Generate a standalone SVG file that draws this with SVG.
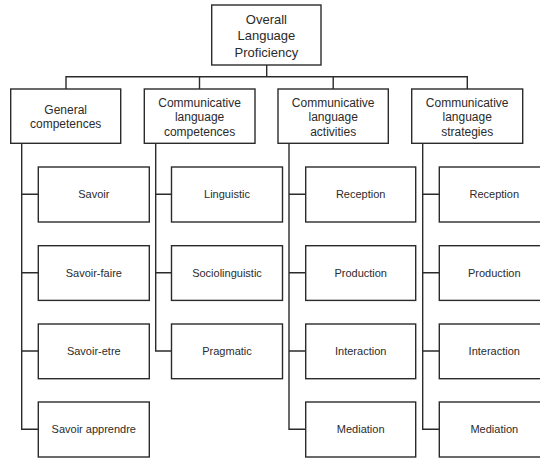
<svg xmlns="http://www.w3.org/2000/svg" width="540" height="458" viewBox="0 0 540 458">
<style>
rect{fill:#fff;stroke:#2b2b2b;stroke-width:1.4}
#connectors path{fill:none;stroke:#2b2b2b;stroke-width:1.4}
text{font-family:"Liberation Sans",Arial,sans-serif;fill:#2b2b2b;text-anchor:middle}
.t{font-size:13px}
.m{font-size:12px}
.c{font-size:11px}
</style>
<rect x="0" y="0" width="540" height="458" style="fill:#fff;stroke:none"/>
<g id="connectors">
<path d="M266.7 65V76.7M66 89V76.7H467.3V89M199.5 76.7V89M333.2 76.7V89"/>
<path d="M21.7 143.3V429.3H38.3M21.7 194.3H38.3M21.7 272.7H38.3M21.7 351H38.3"/>
<path d="M155.7 143.3V351H171.5M155.7 194.3H171.5M155.7 272.7H171.5"/>
<path d="M289 143.3V429.3H305.7M289 194.3H305.7M289 272.7H305.7M289 351H305.7"/>
<path d="M422.7 143.3V429.3H439.3M422.7 194.3H439.3M422.7 272.7H439.3M422.7 351H439.3"/>
</g>
<g id="root"><rect x="211.7" y="5" width="109.3" height="60"/>
<text class="t" x="266.4" y="24">Overall</text><text class="t" x="266.4" y="40.3">Language</text><text class="t" x="266.4" y="56.7">Proficiency</text></g>
<g id="general"><rect x="10.7" y="89" width="110" height="54.3"/>
<text class="m" x="65.7" y="114">General</text><text class="m" x="65.7" y="128">competences</text></g>
<g id="clc"><rect x="144.3" y="89" width="110.7" height="54.3"/>
<text class="m" x="199.6" y="106.6">Communicative</text><text class="m" x="199.6" y="121">language</text><text class="m" x="199.6" y="135.5">competences</text></g>
<g id="cla"><rect x="278" y="89" width="110.3" height="54.3"/>
<text class="m" x="333.2" y="106.6">Communicative</text><text class="m" x="333.2" y="121">language</text><text class="m" x="333.2" y="135.5">activities</text></g>
<g id="cls"><rect x="411.7" y="89" width="111" height="54.3"/>
<text class="m" x="467.2" y="106.6">Communicative</text><text class="m" x="467.2" y="121">language</text><text class="m" x="467.2" y="135.5">strategies</text></g>
<g id="savoir"><rect x="38.3" y="167" width="111" height="55"/><text class="c" x="93.8" y="198.3">Savoir</text></g>
<g id="savoir-faire"><rect x="38.3" y="245.7" width="111" height="54.7"/><text class="c" x="93.8" y="276.7">Savoir-faire</text></g>
<g id="savoir-etre"><rect x="38.3" y="324" width="111" height="54.7"/><text class="c" x="93.8" y="355">Savoir-etre</text></g>
<g id="savoir-apprendre"><rect x="38.3" y="402" width="111" height="55"/><text class="c" x="93.8" y="433.3">Savoir apprendre</text></g>
<g id="linguistic"><rect x="171.5" y="167" width="111" height="55"/><text class="c" x="227" y="198.3">Linguistic</text></g>
<g id="sociolinguistic"><rect x="171.5" y="245.7" width="111" height="54.7"/><text class="c" x="227" y="276.7">Sociolinguistic</text></g>
<g id="pragmatic"><rect x="171.5" y="324" width="111" height="54.7"/><text class="c" x="227" y="355">Pragmatic</text></g>
<g id="act-reception"><rect x="305.7" y="167" width="110" height="55"/><text class="c" x="360.7" y="198.3">Reception</text></g>
<g id="act-production"><rect x="305.7" y="245.7" width="110" height="54.7"/><text class="c" x="360.7" y="276.7">Production</text></g>
<g id="act-interaction"><rect x="305.7" y="324" width="110" height="54.7"/><text class="c" x="360.7" y="355">Interaction</text></g>
<g id="act-mediation"><rect x="305.7" y="402" width="110" height="55"/><text class="c" x="360.7" y="433.3">Mediation</text></g>
<g id="str-reception"><rect x="439.3" y="167" width="111" height="55"/><text class="c" x="494.3" y="198.3">Reception</text></g>
<g id="str-production"><rect x="439.3" y="245.7" width="111" height="54.7"/><text class="c" x="494.3" y="276.7">Production</text></g>
<g id="str-interaction"><rect x="439.3" y="324" width="111" height="54.7"/><text class="c" x="494.3" y="355">Interaction</text></g>
<g id="str-mediation"><rect x="439.3" y="402" width="111" height="55"/><text class="c" x="494.3" y="433.3">Mediation</text></g>
</svg>
